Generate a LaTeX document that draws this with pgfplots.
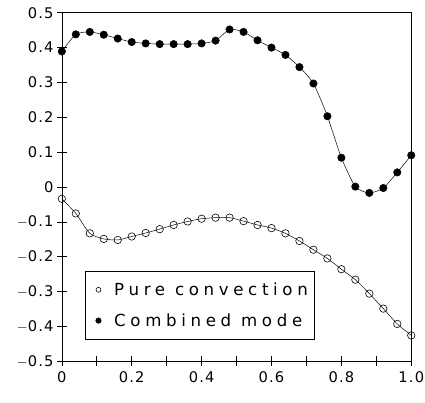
\documentclass[border=0pt]{standalone}
\usepackage{fontspec}
\setmainfont{DejaVu Sans}
\newfontfamily\plotfont[LetterSpace=8]{DejaVu Sans}
\newfontfamily\legfont[LetterSpace=28]{DejaVu Sans}
\usepackage{pgfplots}
\pgfplotsset{compat=1.18}
\begin{document}
\begin{tikzpicture}
\begin{axis}[
  name=ax,
  scale only axis,
  width=356bp, height=355bp,
  xmin=0, xmax=1, ymin=-0.5, ymax=0.5,
  xtick={0,0.1,...,1.0},
  xticklabels={0,,0.2,,0.4,,0.6,,0.8,,1.0},
  ytick={-0.5,-0.4,...,0.5},
  yticklabels={$-$0.5,$-$0.4,$-$0.3,$-$0.2,$-$0.1,0,0.1,0.2,0.3,0.4,0.5},
  xtick pos=lower, ytick pos=left,
  tick align=center,
  major tick length=10bp,
  axis line style={line width=0.6pt},
  tick style={line width=0.6pt, black},
  ticklabel style={font=\plotfont\fontsize{15}{17}\selectfont},
  xticklabel style={yshift=-2bp},
  legend style={at={(0.065,0.062)}, anchor=south west, draw=black,
    font=\legfont\fontsize{17}{19}\selectfont, inner xsep=4bp, inner ysep=10bp,
    row sep=13bp, cells={anchor=west}},
  legend cell align=left,
]
\addplot[black, line width=0.5pt, smooth, tension=0.4, mark=o, mark size=3.8bp, mark options={line width=0.6pt},
  legend image code/.code={\path[draw=none,fill=none] (0,-1bp) rectangle (24bp,1bp); \draw[black, line width=0.6pt] (10bp,0) circle (2.5bp);}]
coordinates {
(0.00,-0.034) (0.04,-0.076) (0.08,-0.133) (0.12,-0.149) (0.16,-0.152)
(0.20,-0.142) (0.24,-0.132) (0.28,-0.121) (0.32,-0.109) (0.36,-0.099)
(0.40,-0.091) (0.44,-0.088) (0.48,-0.088) (0.52,-0.098) (0.56,-0.109)
(0.60,-0.118) (0.64,-0.133) (0.68,-0.155) (0.72,-0.180) (0.76,-0.205)
(0.80,-0.236) (0.84,-0.266) (0.88,-0.306) (0.92,-0.349) (0.96,-0.393)
(1.00,-0.426)
};
\addlegendentry{Pure convection}
\addplot[black, line width=0.5pt, smooth, tension=0.4, mark=*, mark size=3.8bp,
  legend image code/.code={\path[draw=none,fill=none] (0,-1bp) rectangle (24bp,1bp); \fill[black] (10bp,0) circle (2.8bp);}]
coordinates {
(0.00,0.389) (0.04,0.438) (0.08,0.445) (0.12,0.437) (0.16,0.426)
(0.20,0.416) (0.24,0.412) (0.28,0.410) (0.32,0.410) (0.36,0.410)
(0.40,0.412) (0.44,0.420) (0.48,0.452) (0.52,0.445) (0.56,0.421)
(0.60,0.400) (0.64,0.379) (0.68,0.344) (0.72,0.297) (0.76,0.203)
(0.80,0.084) (0.84,0.001) (0.88,-0.017) (0.92,-0.003) (0.96,0.042)
(1.00,0.091)
};
\addlegendentry{Combined mode}
\end{axis}
\pgfresetboundingbox
\path ([shift={(-63bp,-42bp)}]ax.south west) rectangle ([shift={(14bp,13bp)}]ax.north east);
\end{tikzpicture}
\end{document}
